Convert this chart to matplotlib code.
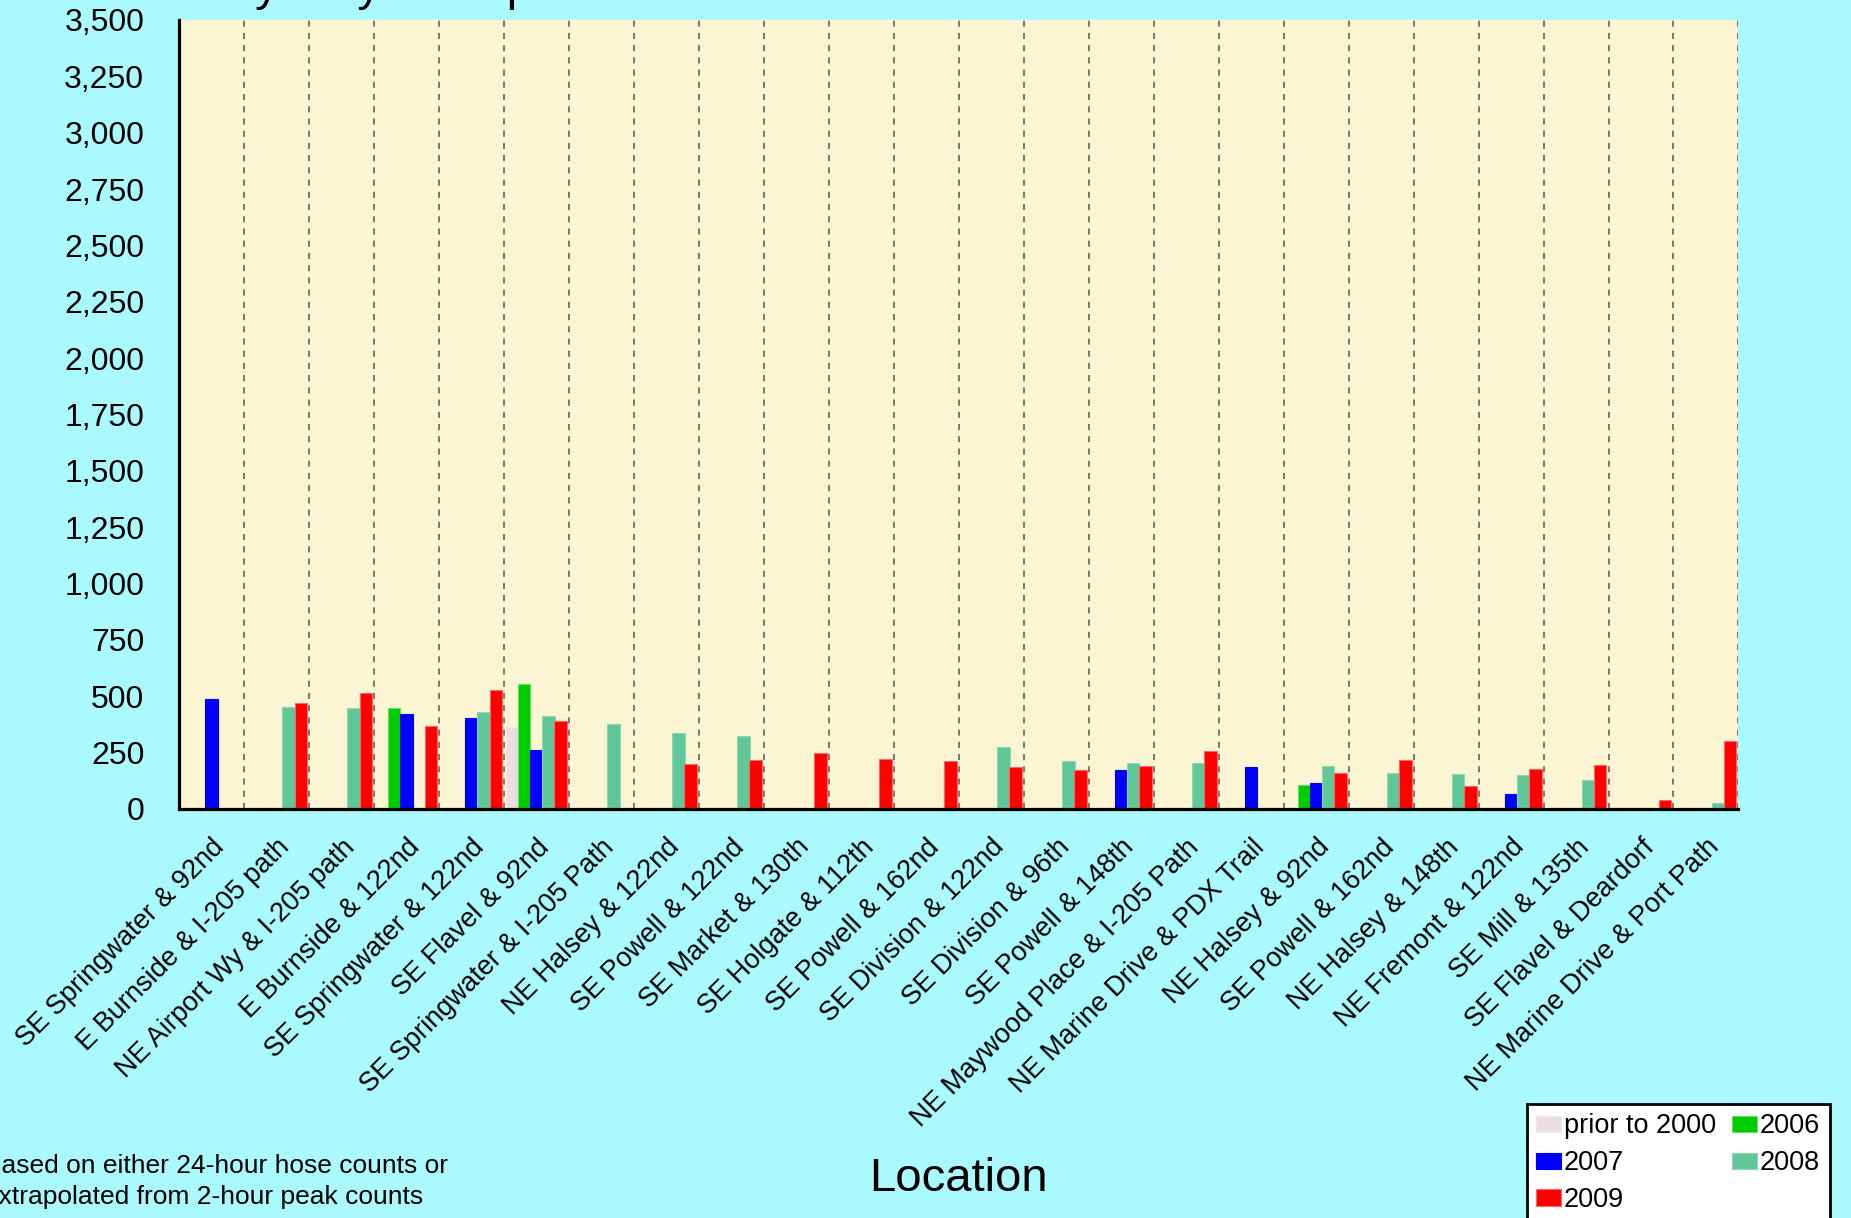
import numpy as np
import matplotlib
matplotlib.use("Agg")
import matplotlib.pyplot as plt

plt.rcParams['font.family'] = ['Liberation Sans', 'DejaVu Sans']

# locations along the x axis (two of them really are the same name)
locations = ["SE Springwater & 92nd", "E Burnside & I-205 path", "NE Airport Wy & I-205 path",
             "E Burnside & 122nd", "SE Springwater & 122nd", "SE Flavel & 92nd",
             "SE Springwater & I-205 Path", "NE Halsey & 122nd", "SE Powell & 122nd",
             "SE Market & 130th", "SE Holgate & 112th", "SE Powell & 162nd",
             "SE Division & 122nd", "SE Division & 96th", "SE Powell & 148th",
             "NE Maywood Place & I-205 Path", "NE Marine Drive & PDX Trail", "NE Halsey & 92nd",
             "SE Powell & 162nd", "NE Halsey & 148th", "NE Fremont & 122nd",
             "SE Mill & 135th", "SE Flavel & Deardorf", "NE Marine Drive & Port Path"]

N = None
prior_2000 = [N, N, N, N, N, 364, N, N, N, N, N, N, N, N, N, N, N, N, N, N, N, N, N, N]
y2006 = [N, N, N, 449, N, 554, N, N, N, N, N, N, N, N, N, N, N, 106, N, N, N, N, N, N]
y2007 = [490, N, N, 421, 404, 262, N, N, N, N, N, N, N, N, 174, N, 188, 117, N, N, 68, N, N, N]
y2008 = [N, 452, 448, N, 429, 413, 379, 337, 325, N, N, N, 275, 215, 205, 206, N, 191, 160, 155, 151, 130, N, 25]
y2009 = [N, 469, 515, 368, 528, 389, N, 200, 216, 250, 222, 215, 186, 171, 191, 259, N, 160, 216, 100, 176, 195, 40, 300]

series_names = ["prior to 2000", "2006", "2007", "2008", "2009"]
series_colors = ["#ebdde0", "#00cc00", "#0000ff", "#60c799", "#ff0000"]
edge_colors = ["#f3e9eb", "#66e066", "#0000ff", "#8fd8b6", "#ff6666"]
y_ticks = np.arange(0, 3501, 250)

fig = plt.figure(figsize=(18.51, 12.18), dpi=100, facecolor="#a9f9ff")
ax = fig.add_axes([0.0967, 0.3358, 0.8425, 0.6478])
ax.set_facecolor("#fcf5d3")

x = np.arange(len(locations))
step = 0.187
handles = []
for k, vals in enumerate([prior_2000, y2006, y2007, y2008, y2009]):
    h = np.array([np.nan if v is None else v for v in vals], dtype=float)
    b = ax.bar(x + (k - 2) * step, h, width=0.19, color=series_colors[k],
               edgecolor=edge_colors[k], linewidth=0.8, zorder=3,
               label=series_names[k])
    handles.append(b)

# dashed separators between locations
for xv in np.arange(0.5, len(locations), 1.0):
    ax.axvline(xv, color="#55554f", lw=1.1, ls=(0, (4, 4)), zorder=1)

ax.set_xlim(-0.5, len(locations) - 0.5)
ax.set_ylim(0, 3500)
ax.set_yticks(y_ticks)
ax.set_yticklabels([f"{v:,}" for v in y_ticks], fontsize=23)
ax.tick_params(axis="y", length=0, pad=25)
ax.set_xticks(x)
ax.set_xticklabels(locations, rotation=45, ha="right", rotation_mode="anchor", fontsize=19.5)
ax.tick_params(axis="x", length=0, pad=18)

for s in ["top", "right"]:
    ax.spines[s].set_visible(False)
for s in ["left", "bottom"]:
    ax.spines[s].set_linewidth(2.3)
    ax.spines[s].set_color("black")
    ax.spines[s].set_zorder(5)

# title sits mostly off the top of the picture
fig.text(174 / 1851, 1.0, "Daily Bicycle Trips in East Portland", fontsize=34,
         ha="left", va="baseline")
fig.text(958 / 1851, 1 - 1179 / 1218, "Location", fontsize=34, ha="center", va="center")
fig.text(-16 / 1851, 1 - 1166 / 1218, "Based on either 24-hour hose counts or",
         fontsize=19, ha="left", va="center")
fig.text(-16 / 1851, 1 - 1197 / 1218, "extrapolated from 2-hour peak counts",
         fontsize=19, ha="left", va="center")

# legend filled row-wise: reorder because matplotlib fills columns first
order = [0, 2, 4, 1, 3]
leg = fig.legend([handles[i] for i in order], [series_names[i] for i in order],
                 loc="upper left", bbox_to_anchor=(1527 / 1851, 1 - 1104 / 1218),
                 ncol=2, fontsize=19.5, frameon=True, fancybox=False,
                 handlelength=0.9, handleheight=0.55, handletextpad=0.12,
                 columnspacing=0.6, labelspacing=0.4, borderpad=0.35,
                 borderaxespad=0)
leg.get_frame().set_edgecolor("black")
leg.get_frame().set_linewidth(2)
leg.get_frame().set_facecolor("white")
leg.get_frame().set_alpha(1)

fig.savefig("out.png", dpi=100, facecolor=fig.get_facecolor())
